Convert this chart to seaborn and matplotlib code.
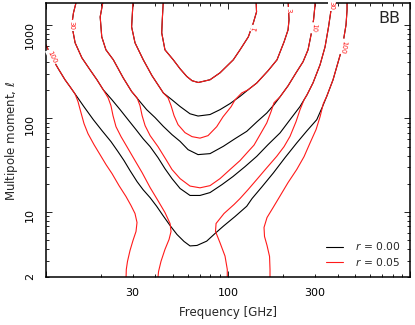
import numpy as np
import matplotlib
matplotlib.use("Agg")
import matplotlib.pyplot as plt
import seaborn as sns
from matplotlib.ticker import LogLocator, FuncFormatter
from matplotlib.lines import Line2D

# ---------------- data ----------------
r_values = [0.00, 0.05]
levels = [1, 3, 10, 30, 100]
xtick_labels = [30, 100, 300]
ytick_labels = [2, 10, 100, 1000]

# level 1 (same for both r)
l1_freq = [44.2, 43.6, 43.3, 45.1, 50.1, 54.6, 59.4, 63.5, 68.7, 79.7, 90.4, 106.9, 116.4, 129.3, 137.7, 143.4, 142.5]
l1_ell = [1850, 1131, 821, 541, 423, 339, 281, 253, 242, 259, 307, 423, 541, 745, 1050, 1376, 1850]

# level 3
b3_freq = [30.2, 29.9, 29.6, 30.9, 34.3, 38.3, 44.2, 49.3, 54.6, 61.9, 68.5, 79.7, 90.4, 102.6, 116.4, 128.8,
           143.8, 165.8, 185.7, 203.0, 213.5, 216.1, 214.8, 213.5]
b3_ell = [1850, 1343, 952, 643, 423, 286, 187, 158, 134, 112, 106, 110, 124, 144, 172, 202,
          239, 323, 423, 658, 884, 1131, 1446, 1850]
r3_freq = [30.2, 29.9, 29.6, 30.9, 34.3, 38.3, 44.2, 46.9, 48.7, 50.6, 53.2, 58.1, 63.5, 70.2, 77.7, 86.7,
           93.9, 103.9, 109.3, 118.9, 128.8, 143.8, 165.8, 185.7, 203.0, 213.5, 216.1, 214.8, 213.5]
r3_ell = [1850, 1343, 952, 643, 423, 286, 187, 166, 137, 107, 85.7, 70.4, 63.8, 61.5, 65.4, 81.5,
          104, 133, 158, 187, 202, 239, 323, 423, 658, 884, 1131, 1446, 1850]

# level 10
b10_freq = [20.7, 19.9, 20.3, 21.4, 23.5, 26.6, 29.6, 32.9, 35.8, 39.8, 44.2, 49.3, 54.6, 60.4, 68.5, 79.7,
            94.3, 109.3, 126.7, 144.3, 163.1, 178.8, 192.9, 213.5, 236.1, 258.0, 274.8, 285.4, 294.6, 300.2, 300.2]
b10_ell = [1850, 1217, 745, 541, 423, 272, 194, 151, 124, 102, 82.1, 67.0, 56.8, 46.3, 41.0, 42.0,
           50.3, 60.7, 72.7, 92.2, 114, 140, 170, 223, 307, 403, 541, 782, 1131, 1635, 1850]
r10_freq = [20.7, 19.9, 20.3, 21.4, 23.5, 26.6, 29.6, 31.7, 32.9, 33.8, 35.1, 37.4, 41.3, 45.7, 49.3, 54.6,
            61.9, 70.2, 79.7, 90.4, 102.6, 116.4, 128.8, 138.9, 149.9, 163.1, 172.2, 178.8, 192.9,
            213.5, 236.1, 258.0, 274.8, 285.4, 294.6, 300.2, 300.2]
r10_ell = [1850, 1217, 745, 541, 423, 272, 194, 166, 137, 107, 83.6, 65.4, 49.9, 36.3, 28.4, 22.7,
           18.9, 18.1, 19.1, 22.7, 28.4, 35.4, 44.1, 51.8, 67.0, 89.3, 118, 147, 170,
           223, 307, 403, 541, 782, 1131, 1635, 1850]

# level 30
b30_freq = [14.8, 14.2, 13.9, 14.5, 15.8, 17.5, 19.1, 20.7, 23.1, 25.6, 28.3, 31.3, 34.2, 37.4, 41.3, 45.1,
            49.3, 54.6, 61.9, 70.2, 79.7, 92.7, 106.5, 124.0, 143.8, 165.8, 192.9, 218.9, 248.4, 271.4,
            292.7, 319.8, 340.7, 356.0, 367.5, 372.2]
b30_ell = [1850, 1343, 1000, 643, 444, 331, 259, 202, 158, 124, 96.9, 75.8, 60.7, 49.9, 38.1, 29.0,
           22.7, 17.8, 15.0, 15.0, 16.1, 19.6, 23.9, 30.5, 39.3, 52.4, 69.9, 96.9, 134, 179,
           240, 374, 582, 952, 1446, 1850]
r30_left_freq = [14.8, 14.2, 13.9, 14.5, 15.8, 17.5, 19.1, 20.7, 22.0, 22.8, 23.4, 24.3, 25.9, 28.3, 30.9,
                 33.8, 37.4, 41.3, 45.1, 48.1, 48.7, 47.5, 45.1, 42.9, 41.6, 41.2]
r30_left_ell = [1850, 1343, 1000, 643, 444, 331, 259, 202, 166, 137, 107, 81.5, 63.8, 47.5, 35.4,
                26.3, 18.2, 13.2, 9.86, 7.52, 6.18, 5.08, 3.97, 2.96, 2.31, 1.90]
r30_right_freq = [99.1, 99.1, 96.3, 90.4, 85.4, 86.0, 95.1, 107.9, 116.4, 128.8, 143.8, 161.6, 185.0, 203.0,
                  218.9, 236.1, 248.4, 261.3, 271.4, 292.7, 319.8, 340.7, 356.0, 367.5, 372.2]
r30_right_ell = [1.90, 2.43, 3.37, 4.68, 6.18, 7.52, 9.62, 12.0, 13.9, 17.3, 22.2, 29.0, 39.3, 49.9,
                 64.3, 92.2, 124, 158, 179, 240, 374, 582, 952, 1446, 1850]

# level 100
b100_freq = [9.54, 10.13, 10.83, 11.73, 12.76, 13.6, 14.48, 16.23, 18.25, 20.37, 22.82, 24.93, 26.89, 29.0,
             31.7, 34.2, 37.4, 40.6, 44.0, 48.1, 52.5, 57.4, 61.9, 67.6, 76.4, 84.9, 94.3, 109.3, 126.7,
             135.5, 153.7, 177.3, 205.6, 238.2, 271.4, 306.8, 328.0, 348.0, 376.9, 396.4, 416.9, 430.2,
             444.0, 449.8, 449.8]
b100_ell = [727, 587, 444, 339, 259, 218, 183, 133, 96.9, 73.9, 56.4, 44.1, 35.4, 27.7,
            21.1, 17.3, 14.2, 11.5, 9.15, 7.16, 5.74, 4.83, 4.33, 4.38, 4.87, 5.88, 7.04, 8.93, 11.5,
            13.9, 18.6, 26.1, 38.1, 54.6, 73.9, 96.9, 130, 172, 259, 365, 515, 692,
            1000, 1446, 1850]
r100_left_freq = [9.54, 10.13, 10.83, 11.73, 12.76, 13.6, 14.48, 15.04, 15.62, 16.23, 17.06, 18.41, 19.86,
                  21.42, 23.11, 25.25, 27.58, 29.38, 30.89, 31.69, 31.29, 30.12, 29.01, 28.1, 27.68, 27.58]
r100_left_ell = [727, 587, 444, 339, 259, 218, 183, 151, 115, 87.8, 68.7, 52.4, 41.0,
                 32.1, 25.7, 19.1, 14.6, 11.7, 9.62, 7.71, 6.18, 4.95, 3.87, 2.96, 2.43, 1.90]
r100_right_freq = [170, 170, 169, 163.7, 158.6, 157.6, 163.7, 176.6, 190.5, 213.5, 238.2, 261.3, 281.8,
                   304, 319.8, 333.4, 348, 376.9, 396.4, 416.9, 430.2, 444.0, 449.8, 449.8]
r100_right_ell = [1.90, 2.43, 3.34, 4.38, 5.46, 6.82, 8.71, 11.1, 14.2, 20.6, 28.4, 39.0, 54.6,
                  75.8, 104, 144, 172, 259, 365, 515, 692, 1000, 1446, 1850]

# contour labels
label_text = ["100", "30", "1", "3", "10", "30", "100"]
label_freq = [10.83, 13.9, 139.8, 214, 293.8, 370.7, 429]
label_ell = [456, 977, 907, 1446, 929, 1595, 587]
label_rot = [-64, -90, 75, -90, -95, -90, -100]

# ---------------- style ----------------
sns.set_theme(style="ticks")
plt.rcParams["font.family"] = ["DejaVu Sans"]
plt.rcParams["mathtext.fontset"] = "dejavusans"

fig = plt.figure(figsize=(4.15, 3.25), dpi=100)
ax = fig.add_axes([0.1101, 0.1468, 0.8786, 0.8430])
ax.set_xscale("log")
ax.set_yscale("log")

black_curves = [(l1_freq, l1_ell), (b3_freq, b3_ell), (b10_freq, b10_ell),
                (b30_freq, b30_ell), (b100_freq, b100_ell)]
red_curves = [(l1_freq, l1_ell), (r3_freq, r3_ell), (r10_freq, r10_ell),
              (r30_left_freq, r30_left_ell), (r30_right_freq, r30_right_ell),
              (r100_left_freq, r100_left_ell), (r100_right_freq, r100_right_ell)]

lw = 0.8
red = "#ff1a1a"
for f, l in black_curves:
    sns.lineplot(x=f, y=l, sort=False, estimator=None, color="black", lw=lw, ax=ax, legend=False)
for f, l in red_curves:
    sns.lineplot(x=f, y=l, sort=False, estimator=None, color=red, lw=lw, ax=ax, legend=False)

for t, fx, ly, rot in zip(label_text, label_freq, label_ell, label_rot):
    ax.text(fx, ly, t, color=red, fontsize=5, rotation=rot, ha="center", va="center",
            rotation_mode="anchor",
            bbox=dict(boxstyle="square,pad=0.15", fc="white", ec="none"), zorder=5)

ax.set_xlim(10, 1000)
ax.set_ylim(2, 1700)

def make_fmt(labels):
    def f(v, pos):
        for lab in labels:
            if abs(v - lab) / lab < 1e-6:
                return f"{lab:g}"
        return ""
    return FuncFormatter(f)

for axis, labs in ((ax.xaxis, xtick_labels), (ax.yaxis, ytick_labels)):
    axis.set_major_locator(LogLocator(base=10, numticks=10))
    axis.set_minor_locator(LogLocator(base=10, subs=np.arange(2, 10), numticks=30))
    axis.set_major_formatter(make_fmt(labs))
    axis.set_minor_formatter(make_fmt(labs))

ax.tick_params(which="both", direction="in", top=True, right=True, labelsize=8, colors="black")
ax.tick_params(which="major", length=4.5, width=0.6)
ax.tick_params(which="minor", length=2.5, width=0.6)
ax.tick_params(axis="y", which="both", labelrotation=90, pad=7.5)
ax.tick_params(axis="x", which="both", pad=7.5)
for s in ax.spines.values():
    s.set_linewidth(1.1)
    s.set_color("black")

ax.set_xlabel("Frequency [GHz]", fontsize=8.5, labelpad=6)
ax.set_ylabel(r"Multipole moment, $\ell$", fontsize=8.5, labelpad=4)

ax.text(0.972, 0.943, "BB", transform=ax.transAxes, ha="right", va="center", fontsize=11.5)

handles = [Line2D([], [], color="black", lw=lw), Line2D([], [], color=red, lw=lw)]
labels = [rf"$r\,=\,{v:.2f}$" for v in r_values]
ax.legend(handles, labels, loc="lower right", frameon=False, fontsize=7.7,
          handlelength=1.6, handletextpad=1.1, labelspacing=0.3,
          borderaxespad=0.5, borderpad=0.4)

fig.savefig("out.png", dpi=100)
